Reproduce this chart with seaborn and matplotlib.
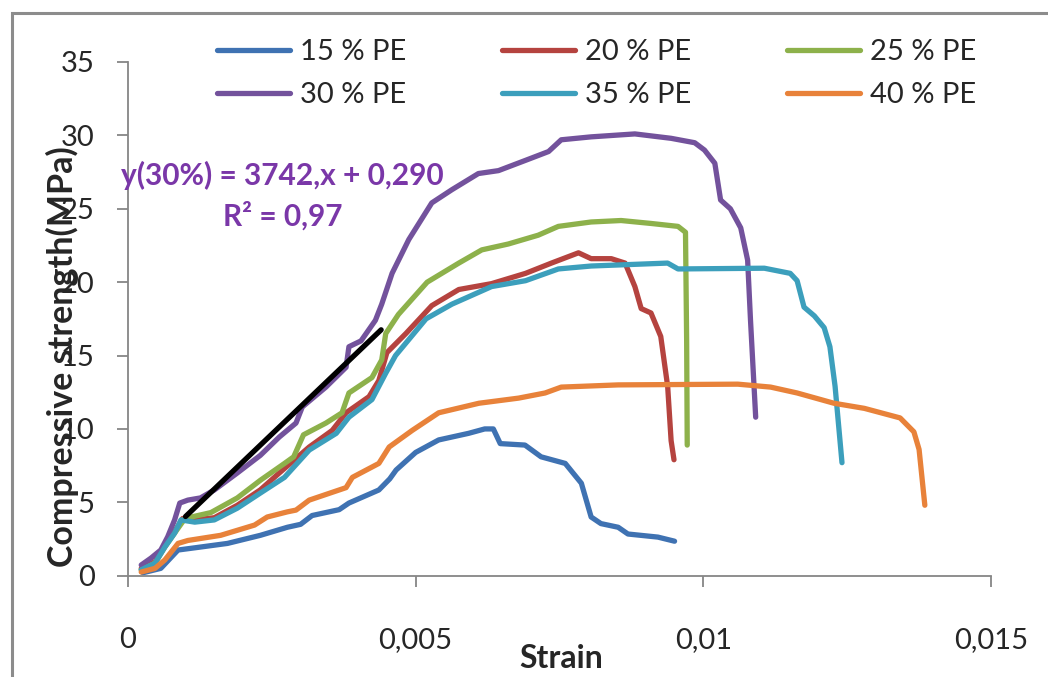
import numpy as np
import pandas as pd
import matplotlib
matplotlib.use("Agg")
import matplotlib.pyplot as plt
import matplotlib.patches as mpatches
import seaborn as sns

# ---- data: strain (-) vs compressive stress (MPa) for each PE content ----
strain_15 = [0.00026, 0.00057, 0.00087, 0.00116, 0.00173, 0.0023, 0.00277, 0.0030, 0.0032,
             0.00367, 0.00384, 0.00436, 0.00455, 0.00466, 0.0050, 0.0054, 0.00592, 0.0062,
             0.00635, 0.00647, 0.0069, 0.00718, 0.0076, 0.00788, 0.00805, 0.00822, 0.00852,
             0.00869, 0.00921, 0.0095]
stress_15 = [0.2, 0.5, 1.75, 1.9, 2.2, 2.75, 3.3, 3.5, 4.1,
             4.5, 4.95, 5.84, 6.6, 7.2, 8.4, 9.25, 9.7, 10.0,
             10.0, 9.0, 8.9, 8.1, 7.65, 6.3, 4.0, 3.55, 3.3,
             2.84, 2.63, 2.35]

strain_20 = [0.00023, 0.00047, 0.00064, 0.00081, 0.00095, 0.00116, 0.0015, 0.0019, 0.0023,
             0.00263, 0.00315, 0.00355, 0.00379, 0.00419, 0.00436, 0.0045, 0.00483, 0.00528,
             0.00575, 0.00632, 0.00691, 0.00736, 0.00783, 0.00805, 0.0084, 0.00864, 0.00881,
             0.00892, 0.00909, 0.00926, 0.00938, 0.00944, 0.00949]
stress_20 = [0.5, 0.95, 2.0, 3.0, 3.9, 3.8, 3.95, 4.8, 5.85,
             7.0, 8.77, 9.9, 11.1, 12.2, 13.3, 15.2, 16.5, 18.4,
             19.5, 19.9, 20.6, 21.3, 22.0, 21.6, 21.6, 21.3, 19.7,
             18.2, 17.9, 16.3, 12.9, 9.2, 7.9]

strain_25 = [0.00023, 0.00047, 0.00064, 0.00081, 0.00099, 0.00144, 0.0019, 0.0023, 0.00272,
             0.00288, 0.00305, 0.00344, 0.00372, 0.00384, 0.00424, 0.00441, 0.00448, 0.0047,
             0.0052, 0.00575, 0.00615, 0.00661, 0.00713, 0.00748, 0.00805, 0.00857, 0.00909,
             0.00956, 0.00969, 0.00971, 0.00972]
stress_25 = [0.4, 0.86, 1.95, 2.9, 3.9, 4.3, 5.3, 6.5, 7.65,
             8.1, 9.6, 10.4, 11.1, 12.45, 13.5, 14.7, 16.5, 17.8,
             20.0, 21.3, 22.2, 22.6, 23.2, 23.8, 24.1, 24.2, 24.0,
             23.8, 23.4, 16.0, 8.9]

strain_30 = [0.00023, 0.0004, 0.00057, 0.00069, 0.00081, 0.0009, 0.00104, 0.00126, 0.0015,
             0.0019, 0.0023, 0.00263, 0.00292, 0.00303, 0.00344, 0.00379, 0.00384, 0.00405,
             0.0043, 0.00441, 0.00459, 0.00488, 0.00528, 0.00563, 0.00609, 0.00644, 0.00691,
             0.00731, 0.00753, 0.00805, 0.00881, 0.00944, 0.00985, 0.01002, 0.0102, 0.0103,
             0.01047, 0.01065, 0.01077, 0.01082, 0.01091]
stress_30 = [0.73, 1.2, 1.75, 2.65, 3.8, 4.95, 5.15, 5.3, 5.84,
             7.0, 8.2, 9.45, 10.4, 11.5, 12.85, 14.2, 15.6, 16.0,
             17.4, 18.5, 20.6, 22.9, 25.4, 26.3, 27.4, 27.6, 28.3,
             28.9, 29.7, 29.9, 30.1, 29.8, 29.5, 29.0, 28.1, 25.6,
             25.0, 23.7, 21.5, 17.4, 10.8]

strain_35 = [0.00023, 0.00047, 0.00064, 0.00081, 0.00092, 0.00116, 0.0015, 0.0019, 0.0023,
             0.00272, 0.00315, 0.00362, 0.00384, 0.00424, 0.00448, 0.00465, 0.00518, 0.00563,
             0.00632, 0.00691, 0.00748, 0.00805, 0.00938, 0.00956, 0.01106, 0.01151, 0.01163,
             0.01175, 0.01193, 0.0121, 0.0122, 0.01229, 0.01241]
stress_35 = [0.4, 0.86, 1.95, 2.9, 3.8, 3.65, 3.8, 4.6, 5.63,
             6.7, 8.56, 9.7, 10.8, 12.0, 13.8, 15.0, 17.5, 18.5,
             19.7, 20.1, 20.9, 21.1, 21.3, 20.9, 20.95, 20.6, 20.1,
             18.3, 17.7, 16.9, 15.6, 12.9, 7.7]

strain_40 = [0.00023, 0.00047, 0.00064, 0.00087, 0.00104, 0.00161, 0.0022, 0.00242, 0.00277,
             0.00292, 0.00315, 0.00379, 0.0039, 0.00436, 0.00454, 0.00494, 0.0054, 0.0061,
             0.00679, 0.00725, 0.00753, 0.00852, 0.0106, 0.01117, 0.01163, 0.01227, 0.0128,
             0.01342, 0.01366, 0.01375, 0.01385]
stress_40 = [0.25, 0.5, 1.07, 2.2, 2.4, 2.75, 3.45, 4.0, 4.35,
             4.47, 5.15, 6.0, 6.7, 7.65, 8.77, 9.9, 11.1, 11.75,
             12.1, 12.45, 12.85, 13.0, 13.05, 12.85, 12.45, 11.75, 11.4,
             10.75, 9.8, 8.6, 4.8]

series_labels = ["15 % PE", "20 % PE", "25 % PE", "30 % PE", "35 % PE", "40 % PE"]
series_colors = ["#3F72B2", "#B5433F", "#8DB14B", "#73529C", "#3C9FBC", "#E8823A"]

# linear fit of the elastic part, 30 % PE
fit_slope = 3742
fit_intercept = 0.290
fit_r2 = "0,97"
fit_range = [0.001, 0.0044]

x_ticks = [0, 0.005, 0.01, 0.015]
x_tick_labels = ["0", "0,005", "0,01", "0,015"]
y_ticks = [0, 5, 10, 15, 20, 25, 30, 35]
y_tick_labels = ["0", "5", "10", "15", "20", "25", "30", "35"]

frames = []
for lab, xs, ys in zip(series_labels,
                       [strain_15, strain_20, strain_25, strain_30, strain_35, strain_40],
                       [stress_15, stress_20, stress_25, stress_30, stress_35, stress_40]):
    frames.append(pd.DataFrame({"Strain": xs, "Stress": ys, "Mix": lab}))
df = pd.concat(frames, ignore_index=True)

# ---- style ----
sns.set_theme(style="white")
plt.rcParams["font.family"] = ["Lato", "DejaVu Sans"]
text_color = "#262626"
axis_color = "#868686"

fig = plt.figure(figsize=(10.48, 6.77), dpi=100)
ax = fig.add_axes([128 / 1048, 1 - 575.7 / 677, (991 - 128) / 1048, (575.7 - 62) / 677])

handles = {}
for lab, col in zip(series_labels, series_colors):
    sub = df[df["Mix"] == lab]
    sns.lineplot(data=sub, x="Strain", y="Stress", ax=ax, color=col, lw=3.8,
                 sort=False, estimator=None, legend=False,
                 solid_joinstyle="round", solid_capstyle="round")
    handles[lab] = ax.lines[-1]

fx = np.array(fit_range)
ax.plot(fx, fit_slope * fx + fit_intercept, color="black", lw=3.8,
        solid_capstyle="round", zorder=5)

ax.set_xlim(0, 0.015)
ax.set_ylim(0, 35)
ax.set_xticks(x_ticks)
ax.set_xticklabels(x_tick_labels)
ax.set_yticks(y_ticks)
ax.set_yticklabels(y_tick_labels)

for side in ["top", "right"]:
    ax.spines[side].set_visible(False)
for side in ["left", "bottom"]:
    ax.spines[side].set_color(axis_color)
    ax.spines[side].set_linewidth(1.3)

ax.tick_params(axis="x", direction="out", length=8, width=1.3, color=axis_color,
               pad=29, labelsize=21, labelcolor=text_color)
ax.tick_params(axis="y", direction="out", length=8, width=1.3, color=axis_color,
               pad=16, labelsize=21, labelcolor=text_color)
ax.tick_params(bottom=True, left=True)

ax.set_xlabel("Strain", fontsize=23, fontweight="bold", color=text_color)
ax.xaxis.set_label_coords(0.5017, -0.161)
ax.xaxis.label.set_va("center")
ax.set_ylabel("Compressive strength(MPa)", fontsize=24.5, fontweight="bold", color=text_color)
ax.yaxis.set_label_coords(-0.0765, 0.4267)
ax.yaxis.label.set_va("center")

# legend: three columns, two rows
order = ["15 % PE", "30 % PE", "20 % PE", "35 % PE", "25 % PE", "40 % PE"]
leg = ax.legend([handles[k] for k in order], order, ncol=3, frameon=False,
                loc="upper left", bbox_to_anchor=(217 / 1048, 1 - 39 / 677),
                bbox_transform=fig.transFigure, fontsize=21, handlelength=2.5,
                handletextpad=0.35, columnspacing=3.28, labelspacing=0.58,
                borderpad=0, borderaxespad=0)
for t in leg.get_texts():
    t.set_color(text_color)

eq_color = "#7A37A8"
fig.text(282.5 / 1048, 1 - 175 / 677, f"y(30%) = {fit_slope},x + 0,{int(round(fit_intercept * 1000)):03d}",
         ha="center", va="center", fontsize=21.5, fontweight="bold", color=eq_color)
fig.text(282.5 / 1048, 1 - 216 / 677, f"R² = {fit_r2}",
         ha="center", va="center", fontsize=21.5, fontweight="bold", color=eq_color)

# outer chart frame
fig.patches.append(mpatches.Rectangle((12 / 1048, -0.1), 1.2, 1.1 - 13 / 677,
                                      transform=fig.transFigure, fill=False,
                                      edgecolor="#8c8c8c", linewidth=2.2))

fig.savefig("out.png", dpi=100)
